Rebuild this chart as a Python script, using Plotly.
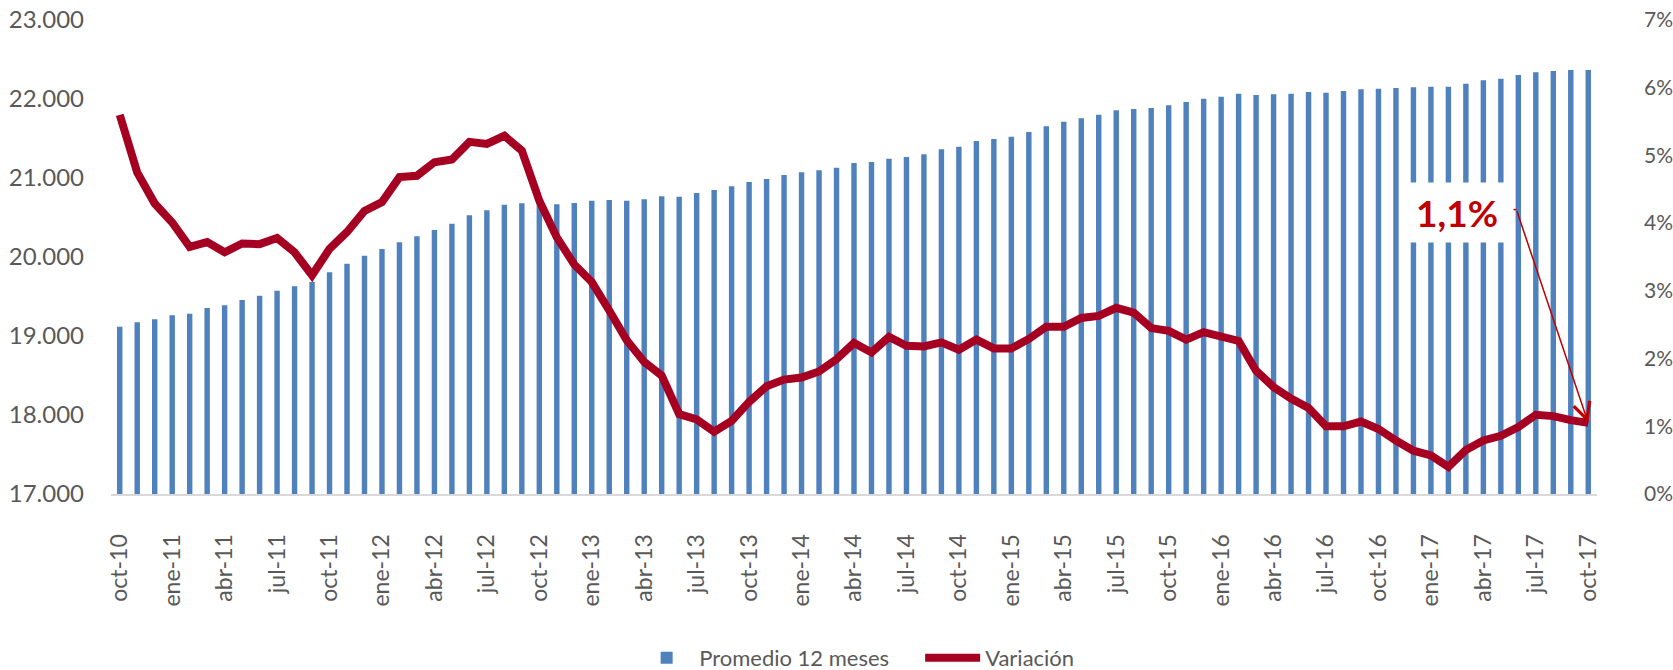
import plotly.graph_objects as go

MONTHS = ["ene", "feb", "mar", "abr", "may", "jun", "jul", "ago", "sep", "oct", "nov", "dic"]
# oct-10 ... oct-17 (85 months)
categories = []
for y in range(10, 18):
    for m in range(12):
        if (y == 10 and m < 9) or (y == 17 and m > 9):
            continue
        categories.append(f"{MONTHS[m]}-{y:02d}")

promedio_12m = [
    19118, 19173, 19211, 19262, 19282, 19354, 19388, 19456, 19510, 19573,
    19629, 19683, 19806, 19915, 20016, 20101, 20186, 20262, 20342, 20421,
    20528, 20591, 20662, 20680, 20680, 20667, 20684, 20713, 20722, 20713,
    20730, 20768, 20764, 20810, 20848, 20895, 20949, 20987, 21038, 21072,
    21097, 21131, 21190, 21203, 21245, 21266, 21300, 21363, 21397, 21468,
    21494, 21523, 21582, 21654, 21713, 21755, 21802, 21857, 21873, 21886,
    21920, 21962, 22004, 22030, 22068, 22051, 22059, 22068, 22089, 22080,
    22101, 22122, 22131, 22139, 22148, 22156, 22156, 22194, 22236, 22257,
    22304, 22338, 22354, 22367, 22367,
]

variacion = [
    5.60, 4.75, 4.29, 4.01, 3.65, 3.72, 3.57, 3.70, 3.69, 3.78,
    3.57, 3.23, 3.62, 3.87, 4.18, 4.31, 4.68, 4.70, 4.90, 4.94,
    5.20, 5.17, 5.29, 5.07, 4.33, 3.79, 3.39, 3.13, 2.71, 2.27,
    1.95, 1.75, 1.18, 1.10, 0.92, 1.08, 1.36, 1.59, 1.69, 1.72,
    1.81, 1.99, 2.23, 2.09, 2.32, 2.19, 2.18, 2.24, 2.13, 2.28,
    2.15, 2.15, 2.29, 2.47, 2.47, 2.60, 2.63, 2.75, 2.68, 2.45,
    2.41, 2.28, 2.39, 2.34, 2.26, 1.82, 1.58, 1.41, 1.27, 1.00,
    1.00, 1.07, 0.96, 0.79, 0.64, 0.57, 0.40, 0.65, 0.79, 0.86,
    0.99, 1.17, 1.15, 1.09, 1.05,
]

tick_labels = categories[::3]
left_ticks = [17000, 18000, 19000, 20000, 21000, 22000, 23000]
right_ticks = [0, 1, 2, 3, 4, 5, 6, 7]
right_labels = [f"{v}%" for v in right_ticks]
callout_text = "1,1%"

FONT = "Lato"
GREY = "#595959"
BLUE = "#4F81BD"
RED = "#A50021"
CALLOUT = "#C00000"

fig = go.Figure()
fig.add_trace(go.Bar(
    x=categories, y=promedio_12m, name="Promedio 12 meses",
    marker=dict(color=BLUE, line=dict(width=0)),
    yaxis="y",
))
fig.add_trace(go.Scatter(
    x=categories, y=variacion, name="Variación", mode="lines",
    line=dict(color=RED, width=8), yaxis="y2",
))

last_idx = len(categories) - 1
# callout text box
fig.add_annotation(
    x=76.5, y=4.16, xref="x", yref="y2", text=f"<b>{callout_text}</b>",
    showarrow=False, font=dict(family=FONT, size=37, color=CALLOUT),
    bgcolor="white", width=110, height=57,
)
# short leader
fig.add_shape(type="line", xref="x", yref="y2", x0=79.26, x1=79.89, y0=4.20, y1=4.20,
              line=dict(color=CALLOUT, width=1.5))
# arrow to last point
fig.add_annotation(
    x=categories[last_idx], y=variacion[last_idx], xref="x", yref="y2",
    ax=79.89, ay=4.20, axref="x", ayref="y2", text="", showarrow=True,
    arrowhead=5, arrowsize=2.2, arrowwidth=1.5, arrowcolor=CALLOUT, standoff=0,
)

fig.update_layout(
    width=1673, height=670,
    margin=dict(l=111, r=76, t=20, b=176, pad=0, autoexpand=False),
    paper_bgcolor="white", plot_bgcolor="white",
    separators=",.",
    bargap=0.69,
    font=dict(family=FONT, color=GREY),
    showlegend=True,
    legend=dict(orientation="h", x=0.55, xanchor="center", xref="container",
                y=0.018, yanchor="middle", yref="container",
                font=dict(family=FONT, size=22, color=GREY), itemwidth=55,
                entrywidth=216, traceorder="normal"),
    xaxis=dict(
        type="category", tickmode="array", tickvals=tick_labels, ticktext=tick_labels,
        tickangle=-90, tickfont=dict(family=FONT, size=23, color=GREY),
        showline=True, linecolor="#D9D9D9", linewidth=2, showgrid=False,
        ticks="", ticklabelstandoff=29, range=[-0.5, last_idx + 0.5], automargin=False,
    ),
    yaxis=dict(
        range=[17000, 23000], tickvals=left_ticks, tickformat=",d",
        tickfont=dict(family=FONT, size=24, color=GREY), showgrid=False,
        zeroline=False, showline=False, ticks="", ticklabelstandoff=26, automargin=False,
    ),
    yaxis2=dict(
        range=[0, 7], tickvals=right_ticks, ticktext=right_labels, overlaying="y", side="right",
        tickfont=dict(family=FONT, size=21, color=GREY), showgrid=False,
        zeroline=False, showline=False, ticks="", ticklabelstandoff=46, automargin=False,
    ),
)

fig.write_html("out.html", config={"displayModeBar": False},
               post_script="document.body.style.margin='0';")
